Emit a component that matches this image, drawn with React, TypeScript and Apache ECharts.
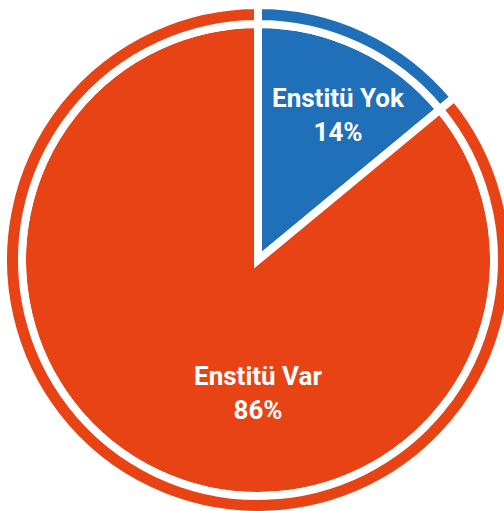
import React, { useEffect, useRef } from "react";
import * as echarts from "echarts";

const categories = ["Enstitü Yok", "Enstitü Var"];
const values = [14, 86];
const colors = ["#1f70b8", "#e84314"];

export default function App() {
  const ref = useRef<HTMLDivElement>(null);
  useEffect(() => {
    if (!ref.current) return;
    const chart = echarts.init(ref.current, undefined, { renderer: "svg" });
    const data = categories.map((name, i) => ({
      name,
      value: values[i],
      itemStyle: { color: colors[i] },
    }));
    const labelPos = [
      { x: 338, y: 115 },
      { x: 258, y: 393 },
    ];
    chart.setOption({
      animation: false,
      series: [
        {
          type: "pie",
          center: [258, 260],
          radius: [0, 236],
          startAngle: 90,
          clockwise: true,
          silent: true,
          itemStyle: { borderColor: "#ffffff", borderWidth: 8, borderJoin: "miter", borderMiterLimit: 10 },
          label: {
            show: true,
            position: "inside",
            formatter: (p: any) => `${p.name}\n${p.value}%`,
            color: "#ffffff",
            fontFamily: "Roboto",
            fontWeight: "bold",
            fontSize: 26,
            lineHeight: 34,
            align: "center",
            verticalAlign: "middle",
          },
          labelLayout: (params: any) => ({
            x: labelPos[params.dataIndex].x,
            y: labelPos[params.dataIndex].y,
            align: "center",
            verticalAlign: "middle",
          }),
          labelLine: { show: false },
          data,
        },
        {
          type: "pie",
          center: [258, 260],
          radius: [236, 255],
          startAngle: 90,
          clockwise: true,
          silent: true,
          itemStyle: { borderColor: "#ffffff", borderWidth: 8, borderJoin: "miter" },
          label: { show: false },
          labelLine: { show: false },
          data,
        },
      ],
    });
    return () => chart.dispose();
  }, []);
  return (
    <div
      ref={ref}
      style={{ position: "fixed", left: 0, top: 0, width: 504, height: 511, background: "#ffffff" }}
    />
  );
}
